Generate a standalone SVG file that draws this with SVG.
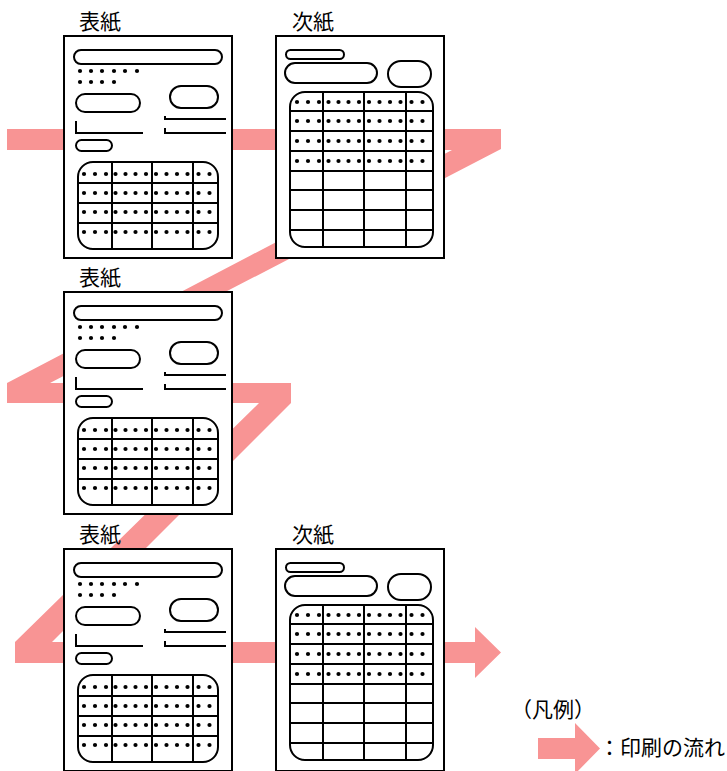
<svg xmlns="http://www.w3.org/2000/svg" xmlns:xlink="http://www.w3.org/1999/xlink" width="727" height="771" viewBox="0 0 727 771">
<style>
.pg{fill:#fff;stroke:#000;stroke-width:2}
.sh{fill:#fff;stroke:#000;stroke-width:2}
.ln{fill:none;stroke:#000;stroke-width:2}
.dt{fill:#000}
.lb{font-family:"Noto Sans CJK JP","Noto Sans CJK SC",sans-serif;font-size:21px;fill:#000}
.flow{fill:#F89494}
</style>
<defs>
<g id="dotrow">
<circle class="dt" cx="0" cy="0" r="2.1"/>
<circle class="dt" cx="11" cy="0" r="2.1"/>
<circle class="dt" cx="22" cy="0" r="2.1"/>
<circle class="dt" cx="31.5" cy="0" r="2.1"/>
<circle class="dt" cx="41.5" cy="0" r="2.1"/>
<circle class="dt" cx="51.5" cy="0" r="2.1"/>
<circle class="dt" cx="62" cy="0" r="2.1"/>
<circle class="dt" cx="72" cy="0" r="2.1"/>
<circle class="dt" cx="82.5" cy="0" r="2.1"/>
<circle class="dt" cx="93" cy="0" r="2.1"/>
<circle class="dt" cx="103.5" cy="0" r="2.1"/>
<circle class="dt" cx="114.5" cy="0" r="2.1"/>
<circle class="dt" cx="125.5" cy="0" r="2.1"/>
</g>
<g id="cover">
<rect class="pg" x="0" y="0" width="168" height="222"/>
<rect class="sh" x="10" y="14" width="148" height="14" rx="7"/>
<circle class="dt" cx="16" cy="35" r="2.1"/>
<circle class="dt" cx="27" cy="35" r="2.1"/>
<circle class="dt" cx="38" cy="35" r="2.1"/>
<circle class="dt" cx="50" cy="35" r="2.1"/>
<circle class="dt" cx="61" cy="35" r="2.1"/>
<circle class="dt" cx="73" cy="35" r="2.1"/>
<circle class="dt" cx="16" cy="46" r="2.1"/>
<circle class="dt" cx="27" cy="46" r="2.1"/>
<circle class="dt" cx="38" cy="46" r="2.1"/>
<circle class="dt" cx="50" cy="46" r="2.1"/>
<rect class="sh" x="12" y="58" width="64" height="18" rx="9"/>
<rect class="sh" x="106" y="50" width="48" height="22" rx="11"/>
<path class="ln" d="M12,85V97H79M101,80V83H162M101,92V97H162"/>
<rect class="sh" x="12" y="104" width="36" height="11" rx="5.5"/>
<rect class="sh" x="14" y="126" width="140" height="87" rx="15"/>
<path class="ln" d="M48,126V213M88,126V213M129,126V213M14,147H154M14,167H154M14,187H154"/>
<use xlink:href="#dotrow" href="#dotrow" x="20" y="138"/>
<use xlink:href="#dotrow" href="#dotrow" x="20" y="157"/>
<use xlink:href="#dotrow" href="#dotrow" x="20" y="176"/>
<use xlink:href="#dotrow" href="#dotrow" x="20" y="196"/>
</g>
<g id="next">
<rect class="pg" x="0" y="0" width="168" height="222"/>
<rect class="sh" x="10" y="14" width="58" height="9" rx="4.5"/>
<rect class="sh" x="9" y="27" width="92" height="20" rx="10"/>
<rect class="sh" x="112" y="25" width="43" height="26" rx="13"/>
<rect class="sh" x="14" y="56" width="143" height="155" rx="15"/>
<path class="ln" d="M47,56V211M88,56V211M130,56V211M14,75H157M14,95H157M14,115H157M14,135H157M14,154H157M14,174H157M14,194H157"/>
<use xlink:href="#dotrow" href="#dotrow" x="21" y="66"/>
<use xlink:href="#dotrow" href="#dotrow" x="21" y="85"/>
<use xlink:href="#dotrow" href="#dotrow" x="21" y="105"/>
<use xlink:href="#dotrow" href="#dotrow" x="21" y="125"/>
</g>
</defs>
<g id="connectors">
<polygon id="print-flow" class="flow" points="7,129 501,129 501,149 50,383 291,383 291,403 52,642 475,642 475,627 501,652.5 475,678 475,663 15,663 15,642 259,403 7,403 7,383 452,150 7,150"/>
</g>
<g id="page1">
<text class="lb" x="79" y="29">表紙</text>
<use xlink:href="#cover" href="#cover" x="64" y="36"/>
</g>
<g id="page2">
<text class="lb" x="292" y="29">次紙</text>
<use xlink:href="#next" href="#next" x="276" y="36"/>
</g>
<g id="page3">
<text class="lb" x="79" y="285">表紙</text>
<use xlink:href="#cover" href="#cover" x="64" y="292"/>
</g>
<g id="page4">
<text class="lb" x="79" y="542">表紙</text>
<use xlink:href="#cover" href="#cover" x="64" y="549"/>
</g>
<g id="page5">
<text class="lb" x="292" y="542">次紙</text>
<use xlink:href="#next" href="#next" x="276" y="549"/>
</g>
<g id="legend">
<text class="lb" x="511" y="717">（凡例）</text>
<polygon class="flow" points="538,738 575,738 575,723 600,748.5 575,774 575,759 538,759"/>
<text class="lb" x="599" y="755">：印刷の流れ</text>
</g>
</svg>
